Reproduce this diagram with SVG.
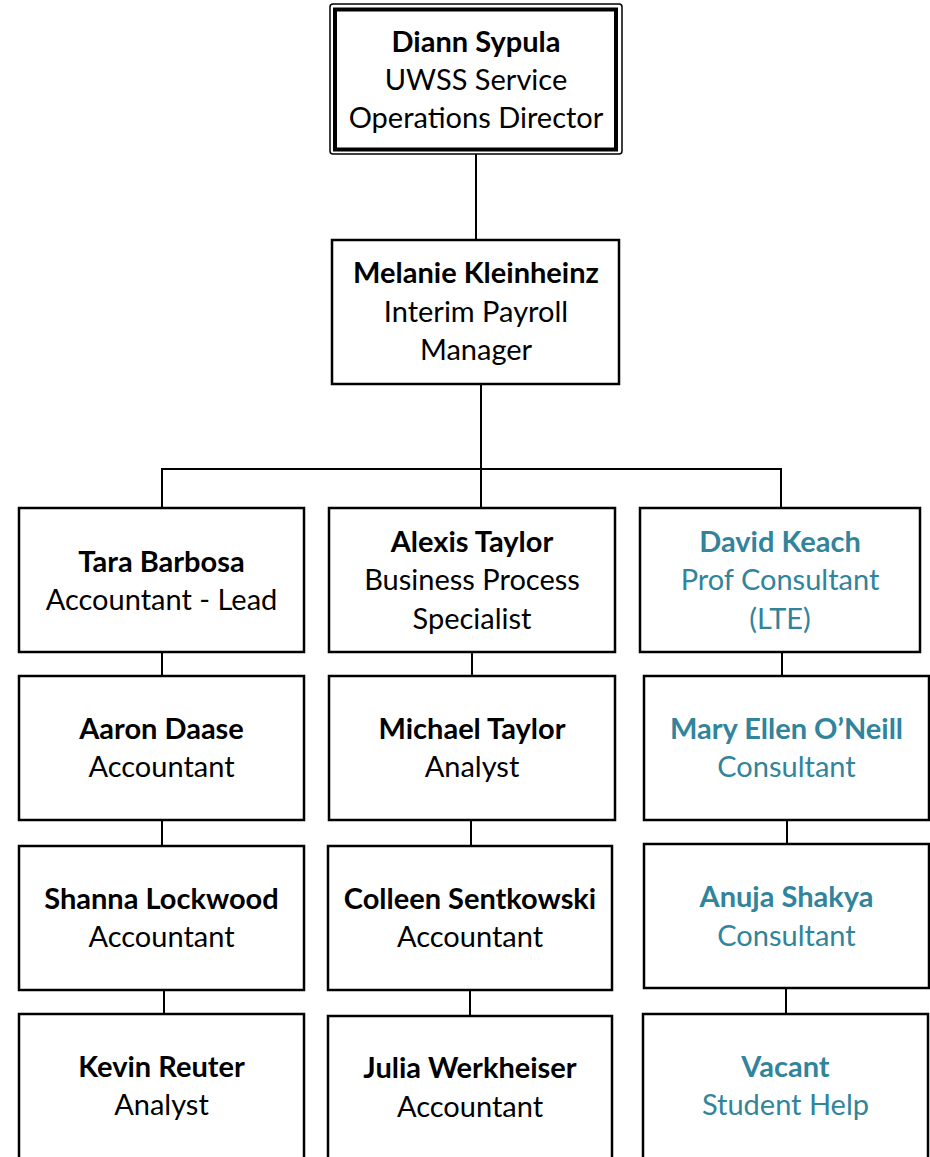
<svg xmlns="http://www.w3.org/2000/svg" width="930" height="1157" viewBox="0 0 930 1157">
<style>
.box{fill:#fff;stroke:#000;stroke-width:2.5}
.t{font-family:Lato,"Liberation Sans",sans-serif;font-size:29px;text-anchor:middle;fill:#000}
.b{font-weight:bold}
.teal{fill:#31849B}
.c{stroke:#000;stroke-width:2;fill:none}
</style>
<rect width="930" height="1157" fill="#fff"/>
<g id="connectors">
<path class="c" d="M476 154V240"/>
<path class="c" d="M481 384V469M162 469H781M162 468V508M481 468V508M781 468V508"/>
<path class="c" d="M162 652V676M472 652V676M782 653V676"/>
<path class="c" d="M162 820V846M471 820V846M787 820V844"/>
<path class="c" d="M164 990V1014M470 990V1016M786 988V1014"/>
</g>
<g id="diann">
<rect x="330" y="4" width="292" height="150" rx="3" fill="#fff" stroke="#000" stroke-width="1.5"/>
<rect x="335" y="9.5" width="281" height="140" fill="#fff" stroke="#000" stroke-width="4"/>
<text class="t b" x="476" y="52">Diann Sypula</text>
<text class="t" x="476" y="90">UWSS Service</text>
<text class="t" x="476" y="128">Operations Director</text>
</g>
<g id="melanie">
<rect class="box" x="332" y="240" width="287" height="144"/>
<text class="t b" x="476" y="283">Melanie Kleinheinz</text>
<text class="t" x="476" y="322">Interim Payroll</text>
<text class="t" x="476" y="360">Manager</text>
</g>
<g id="tara">
<rect class="box" x="19" y="508" width="285" height="144"/>
<text class="t b" x="161.5" y="572">Tara Barbosa</text>
<text class="t" x="161.5" y="610">Accountant - Lead</text>
</g>
<g id="alexis">
<rect class="box" x="329" y="508" width="286" height="144"/>
<text class="t b" x="472" y="552">Alexis Taylor</text>
<text class="t" x="472" y="590">Business Process</text>
<text class="t" x="472" y="629">Specialist</text>
</g>
<g id="david">
<rect class="box" x="640" y="508" width="280" height="144"/>
<text class="t b teal" x="780" y="552">David Keach</text>
<text class="t teal" x="780" y="590">Prof Consultant</text>
<text class="t teal" x="780" y="629">(LTE)</text>
</g>
<g id="aaron">
<rect class="box" x="19" y="676" width="285" height="144"/>
<text class="t b" x="161.5" y="739">Aaron Daase</text>
<text class="t" x="161.5" y="777">Accountant</text>
</g>
<g id="michael">
<rect class="box" x="329" y="676" width="286" height="144"/>
<text class="t b" x="472" y="739">Michael Taylor</text>
<text class="t" x="472" y="777">Analyst</text>
</g>
<g id="mary">
<rect class="box" x="644" y="676" width="285" height="144"/>
<text class="t b teal" x="786.5" y="739">Mary Ellen O’Neill</text>
<text class="t teal" x="786.5" y="777">Consultant</text>
</g>
<g id="shanna">
<rect class="box" x="19" y="846" width="285" height="144"/>
<text class="t b" x="161.5" y="909">Shanna Lockwood</text>
<text class="t" x="161.5" y="947">Accountant</text>
</g>
<g id="colleen">
<rect class="box" x="328" y="846" width="284" height="144"/>
<text class="t b" x="470" y="909">Colleen Sentkowski</text>
<text class="t" x="470" y="947">Accountant</text>
</g>
<g id="anuja">
<rect class="box" x="644" y="844" width="285" height="144"/>
<text class="t b teal" x="786.5" y="907">Anuja Shakya</text>
<text class="t teal" x="786.5" y="946">Consultant</text>
</g>
<g id="kevin">
<rect class="box" x="19" y="1014" width="285" height="150"/>
<text class="t b" x="161.5" y="1077">Kevin Reuter</text>
<text class="t" x="161.5" y="1115">Analyst</text>
</g>
<g id="julia">
<rect class="box" x="328" y="1016" width="284" height="150"/>
<text class="t b" x="470" y="1078">Julia Werkheiser</text>
<text class="t" x="470" y="1117">Accountant</text>
</g>
<g id="vacant">
<rect class="box" x="643" y="1014" width="285" height="150"/>
<text class="t b teal" x="785.5" y="1077">Vacant</text>
<text class="t teal" x="785.5" y="1115">Student Help</text>
</g>
</svg>
